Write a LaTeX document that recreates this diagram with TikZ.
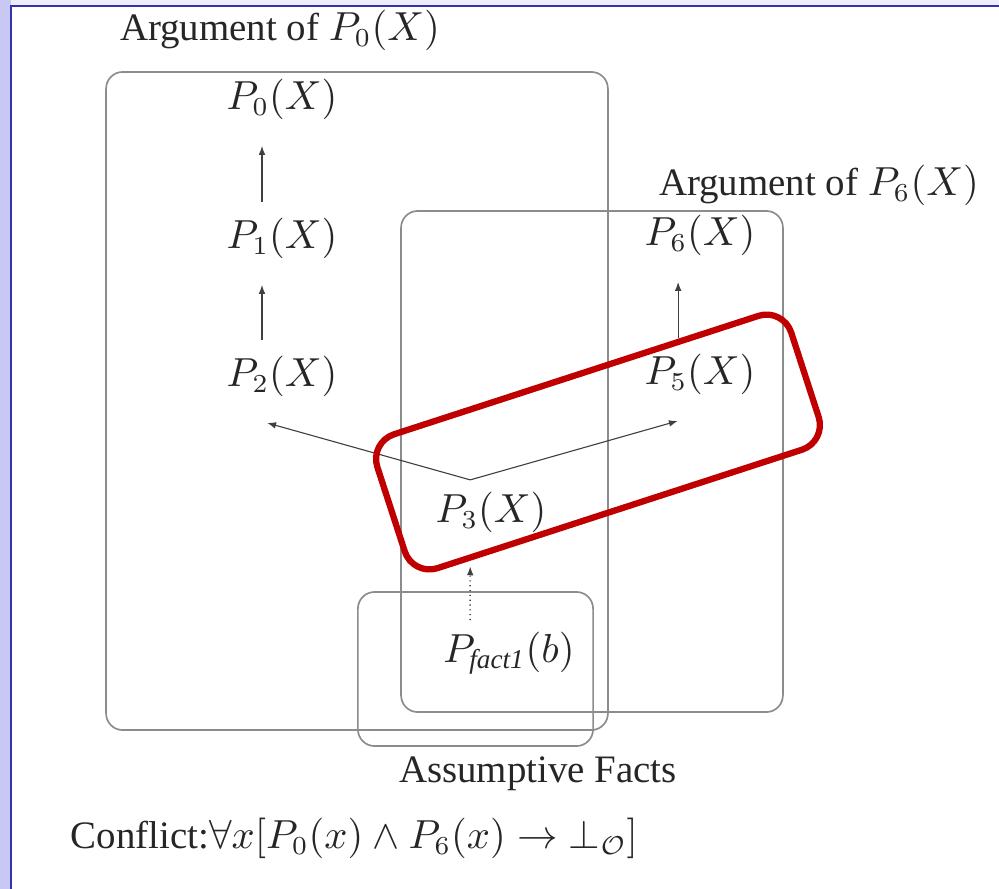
\documentclass[tikz,border=0pt]{standalone}
\usepackage{amsmath}
\usepackage[no-math]{fontspec}
\setmainfont{Liberation Serif}
\usetikzlibrary{arrows.meta,positioning}
\definecolor{lavleft}{RGB}{200,200,245}
\definecolor{lavtop}{RGB}{236,236,251}
\definecolor{frameblue}{RGB}{50,50,170}
\definecolor{hlred}{RGB}{192,0,0}

\begin{document}
\begin{tikzpicture}[
    x=0.27pt, y=-0.27pt,
    font=\fontsize{10.5}{12.5}\selectfont,
    pred/.style={
        inner sep=3pt,
        text=black!85
    },
    group/.style={
        draw=black!45,
        line width=0.45pt,
        rounded corners=4.5pt,
        inner sep=0pt,
        outer sep=0pt
    },
    caption/.style={
        inner sep=3pt,
        text=black!85
    },
    arrow/.style={-{Latex[length=2.4pt,width=1.8pt]}, draw=black!75, line width=0.3pt},
    factarrow/.style={arrow, densely dotted, line width=0.4pt},
    highlight/.style={
        draw=hlred,
        line width=1.7pt,
        rounded corners=7pt,
        inner sep=0pt,
        rotate=18
    }
]
% frame of the slide
\useasboundingbox (0,0) rectangle (999,889);
\fill[lavleft] (0,0) rectangle (11,889);
\fill[lavtop] (11,0) rectangle (999,6);
\draw[frameblue, line width=0.6pt] (11,889) -- (11,6) -- (999,6);

% groups
\node[group, minimum width=135.5pt, minimum height=177.7pt] (arg0) at (357,401) {};
\node[group, minimum width=103.1pt, minimum height=135.3pt] (arg6) at (592,461.5) {};
\node[group, minimum width=63.5pt, minimum height=41.6pt] (facts) at (475.5,669) {};

\node[caption] (arg0lbl) at (280,30) {Argument of $P_0(X)$};
\node[caption] (arg6lbl) at (819,185) {Argument of $P_6(X)$};
\node[caption] (factslbl) at (538,774) {Assumptive Facts};

% predicates
\node[pred] (p0) at (282,99) {$P_0(X)$};
\node[pred] (p1) at (282,238) {$P_1(X)$};
\node[pred] (p2) at (282,376) {$P_2(X)$};
\node[pred] (p6) at (700,235) {$P_6(X)$};
\node[pred] (p5) at (700,374) {$P_5(X)$};
\node[pred] (p3) at (491,512) {$P_3(X)$};
\node[pred] (pf) at (509,653) {$P_{\textit{fact1}}(b)$};

\draw[arrow, shorten >=4pt, shorten <=1pt] ([xshift=-5.4pt]p1.north) -- ([xshift=-5.4pt]p0.south);
\draw[arrow, shorten >=4pt, shorten <=1pt] ([xshift=-5.4pt]p2.north) -- ([xshift=-5.4pt]p1.south);
\draw[arrow, shorten >=4pt, shorten <=1pt] ([xshift=-5.9pt]p5.north) -- ([xshift=-5.9pt]p6.south);
\draw[arrow] ([xshift=-5.6pt]p3.north) -- ([xshift=-4pt,yshift=-4pt]p2.south);
\draw[arrow] ([xshift=-5.6pt]p3.north) -- ([xshift=-6pt,yshift=-4pt]p5.south);
\draw[factarrow, shorten >=6pt] ([xshift=-10.5pt]pf.north) -- ([xshift=-5.6pt]p3.south);

\node[caption, anchor=west] (conflict) at (59,838)
    {Conflict:$\forall x[P_0(x)\wedge P_6(x)\rightarrow\bot_{\mathcal{O}}]$};

% highlighted path
\node[highlight, minimum width=117.5pt, minimum height=38pt] (hl) at (598,442) {};
\end{tikzpicture}
\end{document}
